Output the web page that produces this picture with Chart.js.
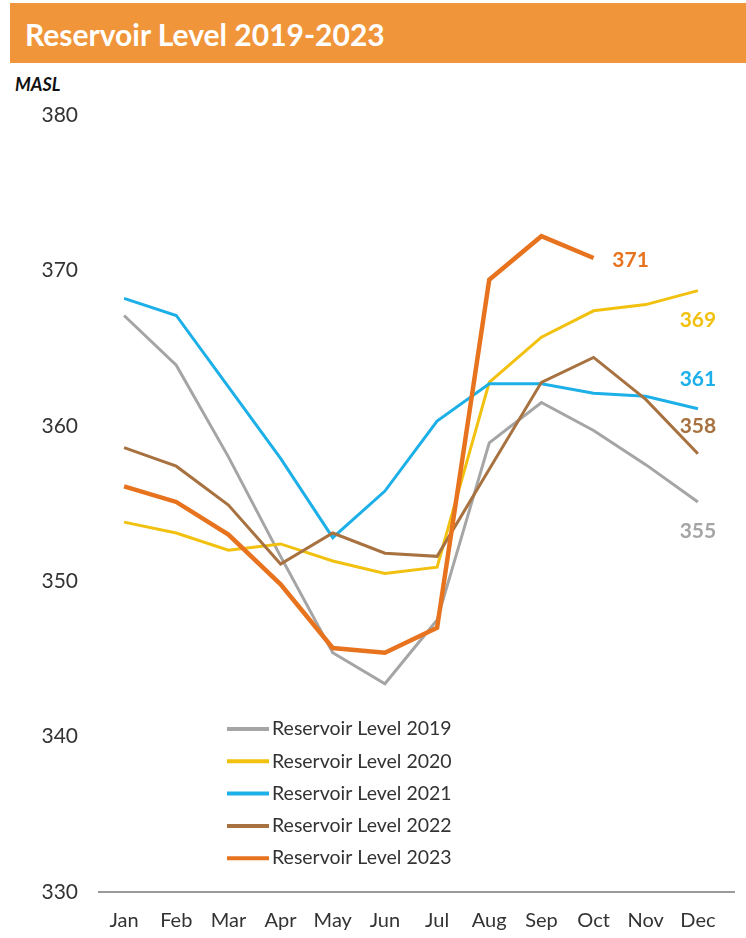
<!DOCTYPE html>
<html>
<head>
<meta charset="utf-8">
<script src="https://cdn.jsdelivr.net/npm/chart.js@4/dist/chart.umd.min.js"></script>
<style>
    html, body { margin: 0; padding: 0; background: #ffffff; }
    body { width: 746px; height: 938px; position: relative; overflow: hidden; font-family: Lato, "Open Sans", sans-serif; }
    .title-bar {
        position: absolute; left: 10px; top: 3px; width: 736px; height: 60px;
        background: #F0953A; color: #ffffff; font-weight: bold; font-size: 30px;
        line-height: 62px; box-sizing: border-box; padding-left: 15px;
    }
    .unit {
        position: absolute; left: 15px; top: 73px; font-size: 18px;
        font-weight: bold; font-style: italic; color: #111111;
    }
    #chart { position: absolute; left: 0; top: 0; }
</style>
</head>
<body>
<div class="title-bar">Reservoir Level 2019-2023</div>
<div class="unit">MASL</div>
<canvas id="chart" width="746" height="938"></canvas>
<script>
const months = ["Jan", "Feb", "Mar", "Apr", "May", "Jun", "Jul", "Aug", "Sep", "Oct", "Nov", "Dec"];
const seriesNames = ["Reservoir Level 2019", "Reservoir Level 2020", "Reservoir Level 2021", "Reservoir Level 2022", "Reservoir Level 2023"];
const level2019 = [367.1, 363.9, 358.0, 351.6, 345.4, 343.4, 347.5, 358.9, 361.5, 359.7, 357.5, 355.1];
const level2020 = [353.8, 353.1, 352.0, 352.4, 351.3, 350.5, 350.9, 362.8, 365.7, 367.4, 367.8, 368.7];
const level2021 = [368.2, 367.1, 362.5, 357.9, 352.8, 355.8, 360.3, 362.7, 362.7, 362.1, 361.9, 361.1];
const level2022 = [358.6, 357.4, 354.9, 351.1, 353.1, 351.8, 351.6, 357.2, 362.8, 364.4, 361.7, 358.2];
const level2023 = [356.1, 355.1, 353.0, 349.8, 345.7, 345.4, 347.0, 369.4, 372.2, 370.8];
const yTicks = [330, 340, 350, 360, 370, 380];

const COLORS = ["#A5A5A5", "#F2C10F", "#1DB0E8", "#A87240", "#E8731F"];
const WIDTHS = [3, 3, 3, 3, 4.5];
const FONT = "Lato, 'Open Sans', sans-serif";
// end label offsets (dx, dy) relative to last point
const LABEL_OFFSETS = [[0, 29], [0, 30], [0, -29], [0, -28], [37, 2]];

const allSeries = [level2019, level2020, level2021, level2022, level2023];

const datasets = allSeries.map((values, i) => ({
    label: seriesNames[i],
    data: values,
    borderColor: COLORS[i],
    backgroundColor: COLORS[i],
    borderWidth: WIDTHS[i],
    pointRadius: 0,
    tension: 0,
    fill: false,
    order: 5 - i
}));

// Werte am Linienende
const endLabels = {
    id: "endLabels",
    afterDatasetsDraw(chart) {
        const ctx = chart.ctx;
        ctx.save();
        ctx.font = "bold 21px " + FONT;
        ctx.textAlign = "center";
        ctx.textBaseline = "middle";
        chart.data.datasets.forEach((ds, i) => {
            const meta = chart.getDatasetMeta(i);
            const last = meta.data[meta.data.length - 1];
            const value = ds.data[ds.data.length - 1];
            ctx.fillStyle = COLORS[i];
            ctx.fillText(Math.round(value), last.x + LABEL_OFFSETS[i][0], last.y + LABEL_OFFSETS[i][1]);
        });
        ctx.restore();
    }
};

// Legende innerhalb der Zeichenfläche
const innerLegend = {
    id: "innerLegend",
    afterDraw(chart) {
        const ctx = chart.ctx;
        ctx.save();
        ctx.font = "19.5px " + FONT;
        ctx.textBaseline = "middle";
        ctx.textAlign = "left";
        chart.data.datasets.forEach((ds, i) => {
            const y = 729 + i * 32.3;
            ctx.strokeStyle = COLORS[i];
            ctx.lineWidth = 4;
            ctx.beginPath();
            ctx.moveTo(227, y);
            ctx.lineTo(269, y);
            ctx.stroke();
            ctx.fillStyle = "#333333";
            ctx.fillText(ds.label, 272, y);
        });
        ctx.restore();
    }
};

// Achsenlinie etwas verlängern
const axisLine = {
    id: "axisLine",
    beforeDatasetsDraw(chart) {
        const ctx = chart.ctx;
        const y = chart.chartArea.bottom;
        ctx.save();
        ctx.strokeStyle = "#9A9A9A";
        ctx.lineWidth = 2;
        ctx.beginPath();
        ctx.moveTo(chart.chartArea.left, y);
        ctx.lineTo(chart.chartArea.right + 11, y);
        ctx.stroke();
        ctx.restore();
    }
};

new Chart(document.getElementById("chart"), {
    type: "line",
    data: { labels: months, datasets: datasets },
    options: {
        responsive: false,
        animation: false,
        layout: { padding: { top: 115, right: 22, bottom: 0, left: 0 } },
        plugins: {
            legend: { display: false },
            tooltip: { enabled: false },
            title: { display: false }
        },
        scales: {
            x: {
                offset: true,
                grid: { display: false, drawTicks: false },
                border: { display: false },
                ticks: {
                    color: "#333333",
                    padding: 17,
                    font: { size: 20, family: FONT },
                    maxRotation: 0
                },
                afterFit: s => { s.height = 938 - 892; }
            },
            y: {
                min: 330,
                max: 380,
                afterBuildTicks: s => { s.ticks = yTicks.map(v => ({ value: v })); },
                grid: { display: false, drawTicks: false },
                border: { display: false },
                ticks: {
                    color: "#333333",
                    padding: 20,
                    font: { size: 21, family: FONT }
                },
                afterFit: s => { s.width = 98; }
            }
        }
    },
    plugins: [axisLine, endLabels, innerLegend]
});
</script>
</body>
</html>
